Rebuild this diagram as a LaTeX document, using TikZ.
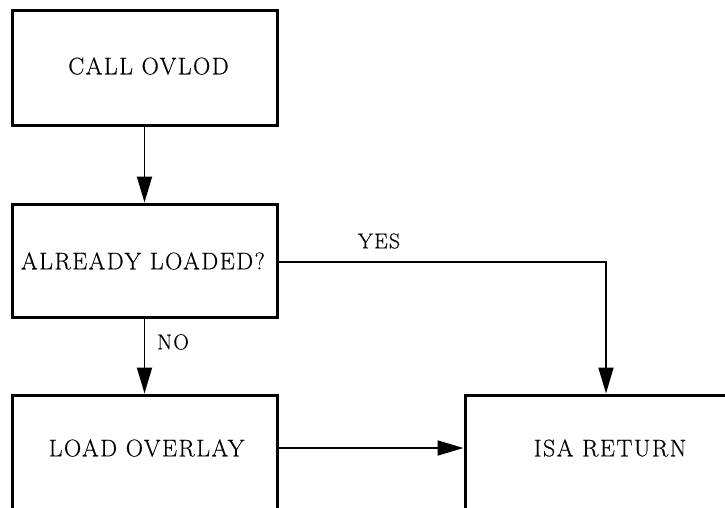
\documentclass[tikz,border=0pt]{standalone}
\usepackage{fontspec}
\setmainfont{Latin Modern Roman}[LetterSpace=6,FakeBold=0.4]
\usetikzlibrary{arrows.meta,calc}
\begin{document}
\begin{tikzpicture}[x=1pt,y=-1pt,
  box/.style={draw,line width=3pt,rectangle,inner sep=0pt},
  txt/.style={font=\fontsize{24}{28}\selectfont,inner sep=0pt},
  lbl/.style={font=\fontsize{21.5}{25}\selectfont,inner sep=0pt},
  conn/.style={line width=1.8pt,-{Triangle[length=26pt,width=15pt]}}]
\useasboundingbox (0,0) rectangle (725,507);
\clip (0,0) rectangle (725,507);
\node[box,minimum width=265pt,minimum height=115pt] (b1) at (144.5,67.5) {};
\node[txt] (t1) at (148.5,66) {CALL OVLOD};
\node[box,minimum width=265pt,minimum height=113pt] (b2) at (144.5,260.5) {};
\node[txt] (t2) at (143,261) {ALREADY LOADED?};
\node[box,minimum width=265pt,minimum height=125pt] (b3) at (144.5,457.5) {};
\node[txt] (t3) at (146.5,448) {LOAD OVERLAY};
\node[box,minimum width=282pt,minimum height=125pt] (b4) at (606,457.5) {};
\node[txt] (t4) at (610,448) {ISA RETURN};
\draw[conn] (b1.south) -- (b2.north);
\draw[conn] (b2.south) -- (b3.north);
\coordinate (yy) at (0,262);
\draw[conn] (b2.east |- yy) -- (b4.north |- yy) -- (b4.north);
\draw[conn] (b3.east |- t3) -- (b4.west |- t3);
\node[lbl] (yes) at (379,241) {YES};
\node[lbl] (no) at (173,342) {NO};
\end{tikzpicture}
\end{document}
